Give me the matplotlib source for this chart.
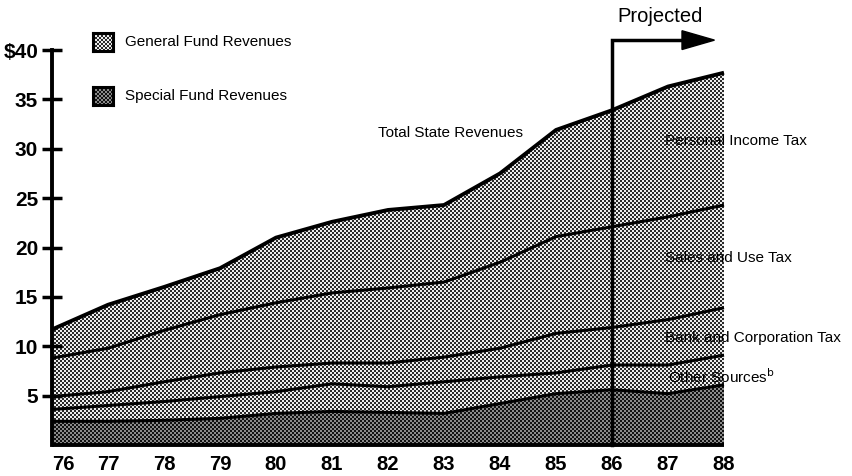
import matplotlib
matplotlib.use("Agg")
import matplotlib.pyplot as plt
from matplotlib.patches import Polygon
import numpy as np

plt.rcParams['font.family'] = ['Liberation Sans', 'DejaVu Sans']

years = [76, 77, 78, 79, 80, 81, 82, 83, 84, 85, 86, 87, 88]
year_labels = ["76", "77", "78", "79", "80", "81", "82", "83", "84", "85", "86", "87", "88"]
# cumulative tops of each layer (billions of dollars)
special_fund = [2.4, 2.4, 2.5, 2.7, 3.2, 3.4, 3.3, 3.2, 4.2, 5.2, 5.6, 5.2, 6.1]
other_sources = [3.6, 4.0, 4.4, 4.9, 5.4, 6.2, 5.9, 6.4, 6.9, 7.3, 8.1, 8.1, 9.1]
bank_corp = [4.9, 5.4, 6.4, 7.3, 7.9, 8.3, 8.3, 8.9, 9.8, 11.3, 11.9, 12.7, 13.9]
sales_use = [8.8, 9.8, 11.6, 13.2, 14.4, 15.4, 15.9, 16.5, 18.5, 21.1, 22.1, 23.1, 24.3]
total = [11.7, 14.2, 16.0, 17.9, 21.0, 22.6, 23.8, 24.3, 27.5, 31.9, 33.9, 36.3, 37.7]
yticks = [5, 10, 15, 20, 25, 30, 35, 40]
ytick_labels = ["5", "10", "15", "20", "25", "30", "35", "$40"]
projected_year = 86

W, H = 852, 476
fig = plt.figure(figsize=(W / 100, H / 100), dpi=100)

def fx(px):
    return px / W

def fy(py):
    return 1 - py / H

AX_L, AX_T, AX_B = 52, 50, 445
ax = fig.add_axes([fx(AX_L), fy(AX_B), (W - AX_L) / W, (AX_B - AX_T) / H])
xmax = 76 + (W - AX_L) / 56.0
ax.set_xlim(76, xmax)
ax.set_ylim(0, 40)

GEN_COLORS = ('#2a2a2a', '#ededed')
SP_COLORS = ('#111111', '#8a8a8a')

def screen(nh, nw, dark, light):
    ii, jj = np.mgrid[0:nh, 0:nw]
    checker = ((ii // 2 + jj // 2) % 2).astype(float)[..., None]
    d = np.array(matplotlib.colors.to_rgb(dark))
    l = np.array(matplotlib.colors.to_rgb(light))
    return checker * d + (1 - checker) * l

nh, nw = AX_B - AX_T, W - AX_L
x = np.array(years)
coll_sp = ax.fill_between(x, 0, special_fund, facecolor='none', linewidth=0)
coll_gen = ax.fill_between(x, special_fund, total, facecolor='none', linewidth=0)

for coll, cols in [(coll_gen, GEN_COLORS), (coll_sp, SP_COLORS)]:
    im = ax.imshow(screen(nh, nw, *cols), extent=(76, xmax, 0, 40), interpolation='nearest',
                   aspect='auto', zorder=0.5)
    im.set_clip_path(coll.get_paths()[0], transform=ax.transData)

for series, lw in [(special_fund, 2.2), (other_sources, 2.2), (bank_corp, 2.2),
                   (sales_use, 2.2), (total, 2.8)]:
    ax.plot(x, series, color='black', lw=lw, solid_capstyle='butt', solid_joinstyle='round')

# baseline
ax.plot([years[0], years[-1]], [0, 0], color='black', lw=2.8, clip_on=False, solid_capstyle='butt')

# projected marker
ytop = 41.0
ax.plot([projected_year, projected_year, 87.3], [0, ytop, ytop], color='black', lw=2.5,
        clip_on=False, solid_joinstyle='miter')
tri = Polygon([[87.25, ytop + 0.95], [87.25, ytop - 0.95], [87.83, ytop]], closed=True,
              facecolor='black', edgecolor='black', clip_on=False)
ax.add_patch(tri)
fig.text(fx(660), fy(17), "Projected", fontsize=14.5, ha='center', va='center')

# axes styling
for s in ['top', 'right', 'bottom']:
    ax.spines[s].set_visible(False)
ax.spines['left'].set_linewidth(2.8)
ax.spines['left'].set_bounds(0, 40)
ax.set_yticks(yticks)
ax.set_yticklabels(ytick_labels, fontsize=15, fontweight='bold')
ax.tick_params(axis='y', direction='inout', length=14, width=2.5, pad=3)
ax.set_xticks(years)
ax.set_xticklabels(year_labels, fontsize=14.5, fontweight='bold')
ax.tick_params(axis='x', length=0, pad=7)
labs = ax.get_xticklabels()
labs[0].set_horizontalalignment('left')

# legend with patterned swatches
for (py, label, cols) in [(42, "General Fund Revenues", GEN_COLORS),
                          (96, "Special Fund Revenues", SP_COLORS)]:
    sw = fig.add_axes([fx(93), fy(py + 9), 20 / W, 18 / H])
    sw.imshow(screen(18, 20, *cols), interpolation='nearest', aspect='auto')
    sw.set_xticks([])
    sw.set_yticks([])
    for s in sw.spines.values():
        s.set_linewidth(2.2)
    fig.text(fx(125), fy(py), label, fontsize=11, ha='left', va='center')

# annotations
fig.text(fx(378), fy(133), "Total State Revenues", fontsize=11, ha='left', va='center')
fig.text(fx(665), fy(141), "Personal Income Tax", fontsize=11, ha='left', va='center')
fig.text(fx(665), fy(258), "Sales and Use Tax", fontsize=11, ha='left', va='center')
fig.text(fx(665), fy(338), "Bank and Corporation Tax", fontsize=11, ha='left', va='center')
fig.text(fx(668), fy(377), "Other Sources$^{\\mathrm{b}}$", fontsize=11, ha='left', va='center')

fig.savefig("out.png", dpi=100)
